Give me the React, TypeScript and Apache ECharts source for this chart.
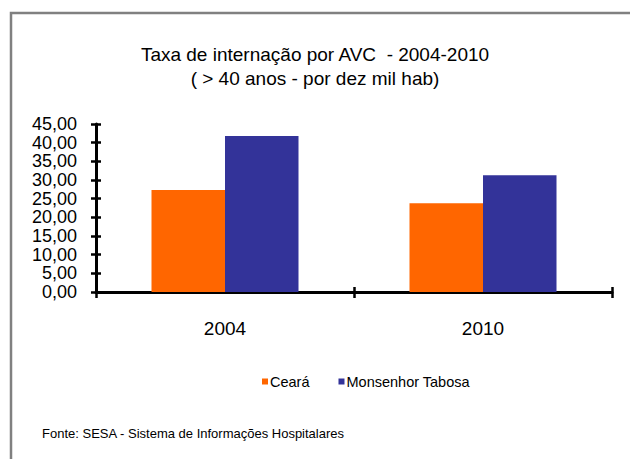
import React, { useEffect, useRef } from "react";
import * as echarts from "echarts";

const categories = ["2004", "2010"];
const cearaValues = [27.3, 23.8];
const monsenhorValues = [41.8, 31.3];
const seriesNames = ["Ceará", "Monsenhor Tabosa"];
const titleLines = ["Taxa de internação por AVC  - 2004-2010", "( > 40 anos - por dez mil hab)"];
const footerText = "Fonte: SESA - Sistema de Informações Hospitalares";

const FONT = "'Liberation Sans', Arial, sans-serif";

export default function App() {
  const ref = useRef<HTMLDivElement>(null);
  useEffect(() => {
    document.body.style.margin = "0";
    const chart = echarts.init(ref.current!, null, { renderer: "svg" });
    const fmt = (v: number) => v.toFixed(2).replace(".", ",");
    const yBase = {
      type: "value" as const,
      min: 0,
      max: 45,
      interval: 5,
      position: "left" as const,
      splitLine: { show: false },
    };
    const labelBase = {
      margin: 19,
      fontSize: 18,
      lineHeight: 18,
      color: "#000",
      fontFamily: FONT,
      showMinLabel: true,
      showMaxLabel: true,
      hideOverlap: false,
    };
    const xBase = {
      type: "category" as const,
      data: categories,
      position: "bottom" as const,
    };
    chart.setOption({
      animation: false,
      backgroundColor: "#ffffff",
      textStyle: { fontFamily: FONT },
      title: {
        text: titleLines.join("\n"),
        left: 315,
        textAlign: "center",
        top: 43,
        padding: 0,
        textStyle: {
          fontFamily: FONT,
          fontSize: 19,
          fontWeight: "normal",
          color: "#000",
          lineHeight: 23.5,
        },
      },
      legend: {
        data: seriesNames,
        left: 257,
        top: 369,
        itemWidth: 6,
        itemHeight: 6,
        itemGap: 29,
        icon: "rect",
        textStyle: {
          fontFamily: FONT,
          fontSize: 14.5,
          color: "#000",
          padding: [0, 0, 0, -3],
        },
      },
      grid: { left: 96, right: 18, top: 124, bottom: 167, containLabel: false },
      xAxis: [
        {
          ...xBase,
          axisLine: { show: true, lineStyle: { color: "#000", width: 3 } },
          axisTick: { show: true, length: 6, lineStyle: { color: "#000", width: 2.5 } },
          axisLabel: { margin: 27, fontSize: 19, color: "#000", fontFamily: FONT },
        },
        {
          ...xBase,
          axisLine: { show: false },
          axisTick: { show: true, inside: true, length: 5, lineStyle: { color: "#000", width: 2.5 } },
          axisLabel: { show: false },
        },
      ],
      yAxis: [
        {
          ...yBase,
          axisLine: { show: true, lineStyle: { color: "#000", width: 3 } },
          axisTick: { show: true, length: 5, lineStyle: { color: "#000", width: 2.5 } },
          axisLabel: {
            ...labelBase,
            formatter: (v: number) => (Math.round(v) % 10 === 0 ? fmt(v) : ""),
          },
        },
        {
          ...yBase,
          axisLine: { show: false },
          axisTick: { show: true, inside: true, length: 5, lineStyle: { color: "#000", width: 2.5 } },
          axisLabel: {
            ...labelBase,
            formatter: (v: number) => (Math.round(v) % 10 === 5 ? fmt(v) : ""),
          },
        },
      ],
      graphic: [
        {
          type: "rect",
          shape: { x: 11, y: 13, width: 800, height: 700 },
          style: { fill: "none", stroke: "#808080", lineWidth: 2.5 },
          silent: true,
        },
        {
          type: "text",
          x: 42,
          y: 433,
          style: {
            text: footerText,
            fontFamily: FONT,
            fontSize: 13,
            fill: "#000",
            textVerticalAlign: "middle",
          },
        },
      ],
      series: [
        {
          name: seriesNames[0],
          type: "bar",
          xAxisIndex: 0,
          yAxisIndex: 0,
          data: cearaValues,
          barWidth: 73.5,
          barGap: "0%",
          itemStyle: { color: "#FF6600" },
        },
        {
          name: seriesNames[1],
          type: "bar",
          xAxisIndex: 0,
          yAxisIndex: 0,
          data: monsenhorValues,
          barWidth: 73.5,
          barGap: "0%",
          itemStyle: { color: "#333399" },
        },
      ],
    });
    return () => chart.dispose();
  }, []);
  return <div ref={ref} style={{ width: 630, height: 459 }} />;
}
